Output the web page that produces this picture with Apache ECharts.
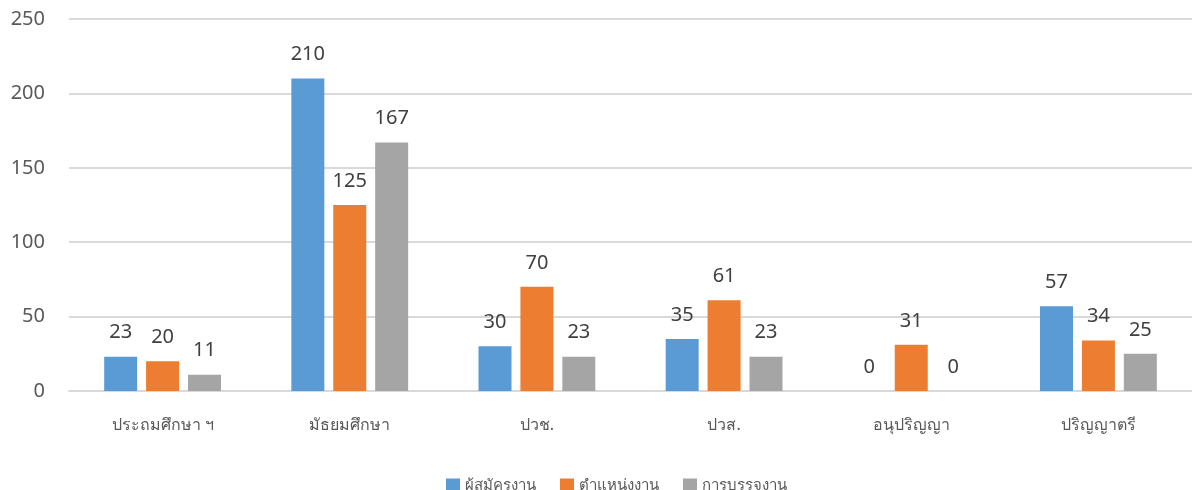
<!DOCTYPE html>
<html>
<head>
<meta charset="utf-8">
<script src="https://cdn.jsdelivr.net/npm/echarts@6/dist/echarts.min.js"></script>
<style>
  html, body { margin: 0; padding: 0; background: #fff; }
  #chart { width: 1192px; height: 490px; }
</style>
</head>
<body>
<div id="chart"></div>
<script>
// ข้อมูลจากกราฟ
const categories = ["ประถมศึกษา ฯ", "มัธยมศึกษา", "ปวช.", "ปวส.", "อนุปริญญา", "ปริญญาตรี"];
const applicants = [23, 210, 30, 35, 0, 57];   // ผู้สมัครงาน
const positions = [20, 125, 70, 61, 31, 34];   // ตำแหน่งงาน
const placements = [11, 167, 23, 23, 0, 25];   // การบรรจุงาน
const yTicks = { min: 0, max: 250, interval: 50 };

const font = "'Noto Sans', 'DejaVu Sans', sans-serif";
const label = {
  show: true,
  position: "top",
  distance: 14,
  fontSize: 20,
  color: "#404040",
  fontFamily: font,
};

const chart = echarts.init(document.getElementById("chart"));
chart.setOption({
  animation: false,
  textStyle: { fontFamily: font },
  grid: { left: 69, right: -5, top: 19, bottom: 99 },
  legend: {
    top: 473,
    left: 441,
    itemWidth: 14,
    itemHeight: 14,
    itemGap: 24,
    icon: "rect",
    textStyle: { fontSize: 15, color: "#595959", fontFamily: font },
  },
  xAxis: {
    type: "category",
    data: categories,
    axisLine: { lineStyle: { color: "#d9d9d9", width: 2 } },
    axisTick: { show: false },
    axisLabel: { fontSize: 16, color: "#595959", margin: 26 },
  },
  yAxis: {
    type: "value",
    min: yTicks.min,
    max: yTicks.max,
    interval: yTicks.interval,
    axisLine: { show: false },
    axisTick: { show: false },
    splitLine: { lineStyle: { color: "#d9d9d9", width: 2 } },
    axisLabel: { fontSize: 20, color: "#595959", margin: 24 },
  },
  series: [
    {
      name: "ผู้สมัครงาน",
      type: "bar",
      data: applicants,
      itemStyle: { color: "#5b9bd5" },
      barWidth: 33,
      barGap: "27%",
      label,
    },
    {
      name: "ตำแหน่งงาน",
      type: "bar",
      data: positions,
      itemStyle: { color: "#ed7d31" },
      barWidth: 33,
      label,
    },
    {
      name: "การบรรจุงาน",
      type: "bar",
      data: placements,
      itemStyle: { color: "#a5a5a5" },
      barWidth: 33,
      label,
    },
  ],
});
</script>
</body>
</html>
